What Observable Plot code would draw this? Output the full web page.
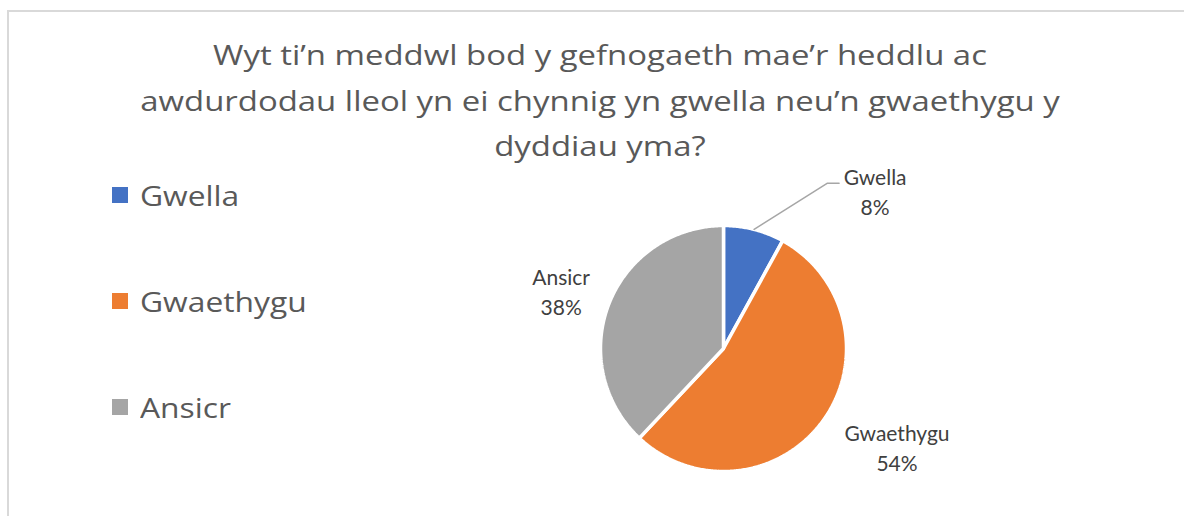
<!DOCTYPE html>
<html>
<head>
<meta charset="utf-8">
<script src="https://cdn.jsdelivr.net/npm/d3@7"></script>
<script src="https://cdn.jsdelivr.net/npm/@observablehq/plot@0.6"></script>
<style>
  html, body { margin: 0; padding: 0; background: #ffffff; }
  #chart { position: relative; width: 1184px; height: 516px; overflow: hidden; font-family: "Open Sans", Lato, sans-serif; }
  #frame { position: absolute; left: 7px; top: 10px; right: -10px; bottom: -10px; border-top: 2px solid #d9d9d9; border-left: 2px solid #d9d9d9; }
  #title { position: absolute; left: 0; width: 1200px; top: 32px; text-align: center; color: #595959; font-size: 28px; line-height: 45.5px; transform: scaleX(1.175); transform-origin: 600px 0; }
  #legend { position: absolute; left: 112px; top: 175px; color: #595959; font-size: 28px; }
  .item { position: absolute; left: 0; white-space: nowrap; height: 40px; line-height: 40px; display: flex; align-items: center; }
  .sw { width: 16px; height: 16px; margin-right: 12px; flex: none; }
  .lt { display: inline-block; transform: scaleX(1.135); transform-origin: 0 50%; }
  #plot { position: absolute; left: 0; top: 0; }
</style>
</head>
<body>
<div id="chart">
  <div id="frame"></div>
  <div id="title"></div>
  <div id="legend"></div>
  <div id="plot"></div>
</div>
<script>
// ---- data ----
const titleLines = [
  "Wyt ti’n meddwl bod y gefnogaeth mae’r heddlu ac",
  "awdurdodau lleol yn ei chynnig yn gwella neu’n gwaethygu y",
  "dyddiau yma?"
];
const categories = ["Gwella", "Gwaethygu", "Ansicr"];
const values = [8, 54, 38];
const colors = ["#4472C4", "#ED7D31", "#A5A5A5"];

// ---- layout / style (pixels) ----
const R = 123;                 // pie radius
const cx = 723, cy = 348;      // pie centre on the page
const labelNudge = {           // label offsets from the slice's outer mid-point
  "Gwella":    [121, -39],
  "Gwaethygu": [74, 26],
  "Ansicr":    [-48, -13]
};
const leaderElbow = [73, -46], leaderEnd = [85, -46]; // leader line for Gwella
const legendGap = 106;

// title
document.getElementById("title").innerHTML = titleLines.map(t => `<div>${t}</div>`).join("");

// legend
const leg = document.getElementById("legend");
categories.forEach((c, i) => {
  const el = document.createElement("div");
  el.className = "item";
  el.style.top = (i * legendGap) + "px";
  el.innerHTML = `<span class="sw" style="background:${colors[i]}"></span><span class="lt">${c}</span>`;
  leg.appendChild(el);
});

// pie geometry from data
const rows = categories.map((name, i) => ({name, value: values[i]}));
const total = d3.sum(values);
const arcs = d3.pie().sort(null).value(d => d.value)(rows);

const pts = [];
arcs.forEach(a => {
  const name = a.data.name;
  pts.push({name, x: 0, y: 0});
  const n = Math.max(2, Math.ceil((a.endAngle - a.startAngle) / 0.01));
  for (let k = 0; k <= n; k++) {
    const t = a.startAngle + (a.endAngle - a.startAngle) * k / n;
    pts.push({name, x: R * Math.sin(t), y: R * Math.cos(t)});
  }
});

const labels = arcs.map(a => {
  const m = (a.startAngle + a.endAngle) / 2;
  const [dx, dy] = labelNudge[a.data.name];
  const ex = R * Math.sin(m), ey = R * Math.cos(m);
  return {
    name: a.data.name,
    ex, ey,
    x: ex + dx, y: ey - dy,
    text: `${a.data.name}\n${Math.round(a.data.value / total * 100)}%`
  };
});

const g = labels.find(d => d.name === "Gwella");
const leader = [
  {x: g.ex, y: g.ey},
  {x: g.ex + leaderElbow[0], y: g.ey - leaderElbow[1]},
  {x: g.ex + leaderEnd[0], y: g.ey - leaderEnd[1]}
];

const W = 1184, H = 516;
const plot = Plot.plot({
  width: W, height: H,
  marginLeft: cx - R, marginRight: W - (cx + R),
  marginTop: cy - R, marginBottom: H - (cy + R),
  x: {domain: [-R, R], axis: null},
  y: {domain: [-R, R], axis: null},
  color: {domain: categories, range: colors},
  style: {background: "transparent", overflow: "visible"},
  marks: [
    Plot.line(pts, {x: "x", y: "y", z: "name", fill: "name", stroke: "white", strokeWidth: 3.5, strokeLinejoin: "miter", curve: "linear-closed"}),
    Plot.line(leader, {x: "x", y: "y", stroke: "#a6a6a6", strokeWidth: 1.5}),
    Plot.text(labels, {x: "x", y: "y", text: "text", fill: "#404040", fontSize: 21, lineHeight: 1.42, lineAnchor: "middle", textAnchor: "middle", fontFamily: "Lato"})
  ]
});
document.getElementById("plot").appendChild(plot);
</script>
</body>
</html>
